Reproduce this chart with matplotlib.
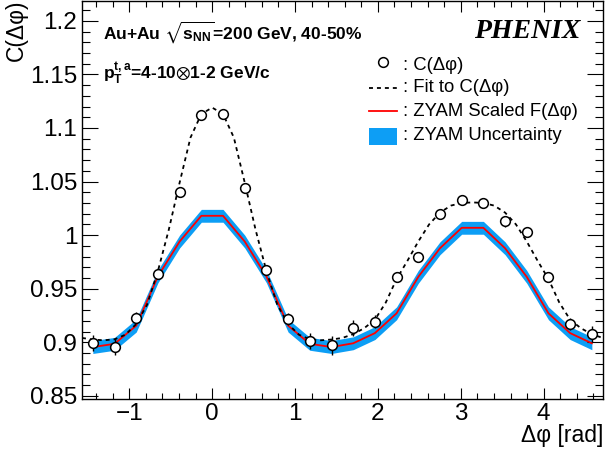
import numpy as np
import matplotlib
matplotlib.use('Agg')
import matplotlib.pyplot as plt
from matplotlib.ticker import MultipleLocator, FuncFormatter
from matplotlib.lines import Line2D
from matplotlib.patches import Rectangle

plt.rcParams['font.family'] = ['Liberation Sans', 'DejaVu Sans']
plt.rcParams['mathtext.fontset'] = 'custom'
plt.rcParams['mathtext.rm'] = 'Liberation Sans'
plt.rcParams['mathtext.it'] = 'Liberation Sans:italic'
plt.rcParams['mathtext.bf'] = 'Liberation Sans:bold'
plt.rcParams['mathtext.fallback'] = 'stixsans'

# ---------------- data ----------------
n_bins = 24
bin_width = np.pi / 12
dphi = -np.pi / 2 + (np.arange(n_bins) + 0.5) * bin_width   # bin centres

c_vals = [0.899, 0.896, 0.923, 0.964, 1.040, 1.112, 1.113, 1.044,
          0.967, 0.922, 0.901, 0.897, 0.913, 0.919, 0.961, 0.980,
          1.020, 1.033, 1.030, 1.013, 1.003, 0.961, 0.917, 0.9075]
c_errs = [0.0075, 0.008, 0.005, 0.004, 0.003, 0.003, 0.003, 0.003,
          0.004, 0.005, 0.0075, 0.009, 0.0075, 0.006, 0.005, 0.004,
          0.003, 0.003, 0.003, 0.005, 0.003, 0.004, 0.006, 0.0075]

zyam_vals = [0.8955, 0.8985, 0.9155, 0.9615, 0.994, 1.018, 1.018, 0.994,
             0.9615, 0.9155, 0.8985, 0.8955, 0.899, 0.9085, 0.927, 0.961,
             0.9877, 1.0068, 1.0068, 0.9877, 0.961, 0.927, 0.9085, 0.899]
zyam_unc = [0.006] * n_bins

fit_phi = np.linspace(-np.pi / 2, 3 * np.pi / 2, 49)
fit_vals = [0.904, 0.9025, 0.9018, 0.9027, 0.907, 0.917, 0.935, 0.9665,
            1.005, 1.049, 1.091, 1.113, 1.119, 1.113, 1.091, 1.049,
            1.005, 0.9665, 0.935, 0.917, 0.907, 0.9027, 0.9018, 0.9025,
            0.904, 0.9075, 0.913, 0.921, 0.937, 0.959, 0.976, 0.994,
            1.010, 1.021, 1.0275, 1.030, 1.0305, 1.030, 1.0275, 1.021,
            1.010, 0.994, 0.976, 0.959, 0.937, 0.921, 0.913, 0.9075, 0.904]

x_ticks = [-1, 0, 1, 2, 3, 4]
y_ticks = [0.85, 0.9, 0.95, 1.0, 1.05, 1.1, 1.15, 1.2]

# ---------------- figure ----------------
W, H = 605, 450
fig = plt.figure(figsize=(W / 100, H / 100), dpi=100)
fx = lambda px: px / W
fy = lambda py: 1 - py / H

ax = fig.add_axes([fx(82), fy(399), fx(602.7) - fx(82), fy(1) - fy(399)])

blue = '#0d9ef5'
zv = np.array(zyam_vals)
zu = np.array(zyam_unc)
ax.fill_between(dphi, zv - zu, zv + zu, color=blue, lw=0, zorder=1)
ax.plot(dphi, zv, color='red', lw=1.3, zorder=2)
dash = (0, (2.2, 2.2))
ax.plot(fit_phi, fit_vals, color='black', ls=dash, lw=1.3, zorder=3)
ax.errorbar(dphi, c_vals, yerr=c_errs, fmt='none', ecolor='black',
            elinewidth=1.0, zorder=4)
ax.plot(dphi, c_vals, 'o', ls='none', ms=7, mfc='white', mec='black',
        mew=1.1, zorder=5)

ax.set_xlim(-np.pi / 2, 3 * np.pi / 2)
ax.set_ylim(0.847, 1.2185)
ax.set_xticks(x_ticks)
ax.set_yticks(y_ticks)
ax.xaxis.set_minor_locator(MultipleLocator(0.2))
ax.yaxis.set_minor_locator(MultipleLocator(0.01))
ax.yaxis.set_major_formatter(FuncFormatter(lambda v, _: '%g' % round(v, 3)))
ax.tick_params(which='both', direction='in', top=True, right=True,
               width=0.8, labelsize=17.5)
ax.tick_params(axis='x', which='major', length=8, pad=3)
ax.tick_params(axis='x', which='minor', length=4)
ax.tick_params(axis='y', which='major', length=11.5, pad=3.5)
ax.tick_params(axis='y', which='minor', length=5.5)
for s in ax.spines.values():
    s.set_linewidth(1.0)

# axis titles
fig.text(fx(603), fy(442), 'Δφ [rad]', fontsize=16.5, ha='right', va='baseline')
fig.text(fx(16), fy(-1), 'C(Δφ)', fontsize=16.5, rotation=90,
         ha='center', va='top')

# annotations
fig.text(fx(103), fy(38.5), r'Au+Au $\mathbf{\sqrt{s_{NN}}}$=200 GeV, 40-50%',
         fontsize=12.5, fontweight='bold', va='baseline')
fig.text(fx(103), fy(79), r'$\mathbf{p_{T}^{t,a}}$=4-10$\otimes$1-2 GeV/c',
         fontsize=12.5, fontweight='bold', va='baseline')
fig.text(fx(580), fy(38), 'PHENIX', family='Liberation Serif', style='italic',
         fontweight='bold', fontsize=20, ha='right', va='baseline')

# manual legend
fig.add_artist(Line2D([fx(383)], [fy(62)], transform=fig.transFigure,
                      marker='o', ms=7, mfc='white', mec='black', mew=1.1))
fig.add_artist(Line2D([fx(369), fx(397)], [fy(88), fy(88)],
                      transform=fig.transFigure, color='black', ls=dash, lw=1.3))
fig.add_artist(Line2D([fx(369), fx(397)], [fy(111), fy(111)],
                      transform=fig.transFigure, color='red', lw=1.3))
fig.add_artist(Rectangle((fx(369), fy(145)), fx(397) - fx(369), fy(128) - fy(145),
                         transform=fig.transFigure, color=blue, lw=0))
legend_texts = [': C(Δφ)', ': Fit to C(Δφ)', ': ZYAM Scaled F(Δφ)',
                ': ZYAM Uncertainty']
for txt, yb in zip(legend_texts, [69.5, 92.5, 116.5, 140.5]):
    fig.text(fx(403), fy(yb), txt, fontsize=13.3, va='baseline')

fig.savefig('out.png', dpi=100)
